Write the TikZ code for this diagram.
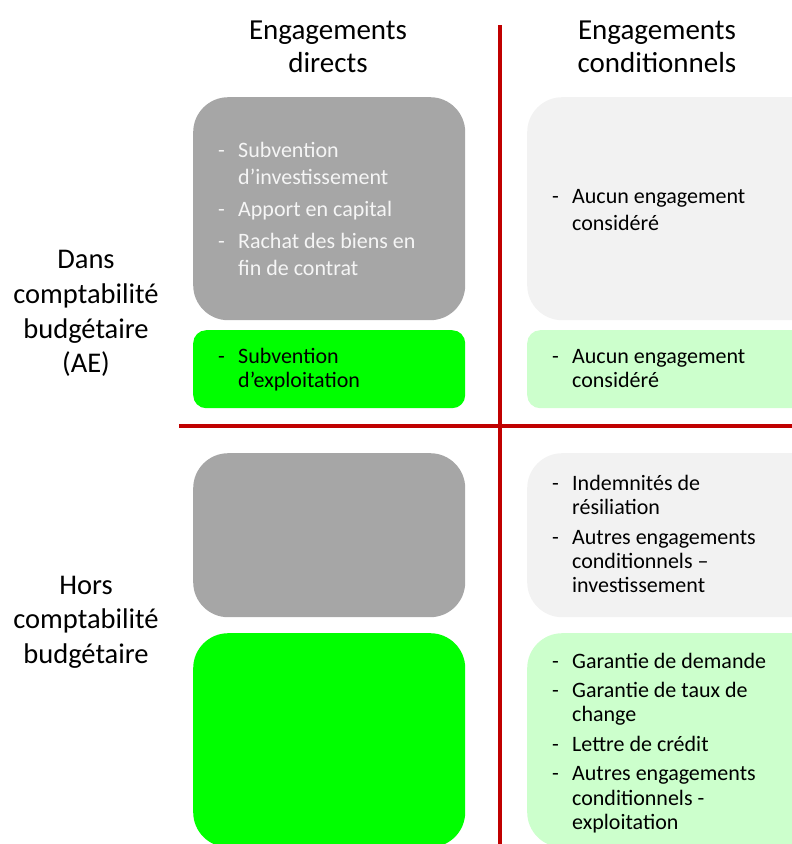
\documentclass[tikz,border=0pt]{standalone}
\usepackage{fontspec}
\setmainfont{Carlito}
\definecolor{darkgraybox}{HTML}{A6A6A6}
\definecolor{greenbox}{HTML}{00FF00}
\definecolor{lightgraybox}{HTML}{F2F2F2}
\definecolor{lightgreenbox}{HTML}{CCFFCC}
\definecolor{redline}{HTML}{C00000}
\definecolor{whitetext}{HTML}{F5F5F5}
\newcommand{\dashlist}[1]{\begin{tabular}[t]{@{}p{20pt}@{}l@{}}#1\end{tabular}}
\newcommand{\centerlines}[1]{\begin{tabular}[t]{@{}c@{}}#1\end{tabular}}
\begin{document}
\begin{tikzpicture}[x=1pt,y=1pt,
  box/.style={draw=none, inner sep=0pt, anchor=north west},
  bigbox/.style={box, rounded corners=35pt},
  smallbox/.style={box, rounded corners=13pt},
  hdr/.style={font=\fontsize{29}{32.5}\selectfont, inner sep=0pt, anchor=base},
  side/.style={font=\fontsize{28.5}{34.8}\selectfont, inner sep=0pt, anchor=base},
  lista/.style={font=\fontsize{22}{27}\selectfont, inner sep=0pt, anchor=base west},
  listb/.style={font=\fontsize{22}{24.2}\selectfont, inner sep=0pt, anchor=base west},
  divider/.style={draw=redline, line width=4pt}]
\useasboundingbox (0,0) rectangle (792,-844);
\begin{scope}
\clip (0,0) rectangle (792,-844);
% boxes
\node[bigbox, fill=darkgraybox, minimum width=272pt, minimum height=223pt] (dirAE) at (193,-97) {};
\node[smallbox, fill=greenbox, minimum width=272pt, minimum height=78pt] (dirAEexp) at (193,-330) {};
\node[bigbox, fill=lightgraybox, minimum width=300pt, minimum height=223pt] (condAE) at (527,-97) {};
\node[smallbox, fill=lightgreenbox, minimum width=300pt, minimum height=78pt] (condAEexp) at (527,-330) {};
\node[bigbox, fill=darkgraybox, minimum width=272pt, minimum height=164pt] (dirHors) at (193,-453) {};
\node[bigbox, fill=greenbox, minimum width=272pt, minimum height=214pt] (dirHorsexp) at (193,-633) {};
\node[bigbox, fill=lightgraybox, minimum width=300pt, minimum height=164pt] (condHors) at (527,-453) {};
\node[bigbox, fill=lightgreenbox, minimum width=300pt, minimum height=214pt] (condHorsexp) at (527,-633) {};
% dividers
\coordinate (vtop) at (500,-25);
\coordinate (vbot) at (500,-850);
\coordinate (hleft) at (179,-425.5);
\coordinate (hright) at (800,-425.5);
\draw[divider] (vtop) -- (vbot);
\draw[divider] (hleft) -- (hright);
\end{scope}
% headers
\node[hdr] (hdrdir) at (328,-39.5) {\centerlines{Engagements\\directs}};
\node[hdr] (hdrcond) at (657,-39.5) {\centerlines{Engagements\\conditionnels}};
% side labels
\node[side] (sideAE) at (86,-268.5) {\centerlines{Dans\\comptabilité\\budgétaire\\(AE)}};
\node[side] (sideHors) at (86,-594) {\centerlines{Hors\\comptabilité\\budgétaire}};
% lists
\node[lista, text=whitetext] (txtdirAE) at (218,-157.5) {\dashlist{-&Subvention\\&d’investissement\\[5pt]-&Apport en capital\\[5pt]-&Rachat des biens en\\&fin de contrat}};
\node[listb] (txtdirAEexp) at (218,-363.5) {\dashlist{-&Subvention\\&d’exploitation}};
\node[lista] (txtcondAE) at (552,-203.5) {\dashlist{-&Aucun engagement\\&considéré}};
\node[listb] (txtcondAEexp) at (552,-363.5) {\dashlist{-&Aucun engagement\\&considéré}};
\node[listb] (txtcondHors) at (552,-490.5) {\dashlist{-&Indemnités de\\&résiliation\\[5.5pt]-&Autres engagements\\&conditionnels –\\&investissement}};
\node[listb] (txtcondHorsexp) at (552,-668.5) {\dashlist{-&Garantie de demande\\[5pt]-&Garantie de taux de\\&change\\[5pt]-&Lettre de crédit\\[5.5pt]-&Autres engagements\\&conditionnels -\\&exploitation}};
\end{tikzpicture}
\end{document}
